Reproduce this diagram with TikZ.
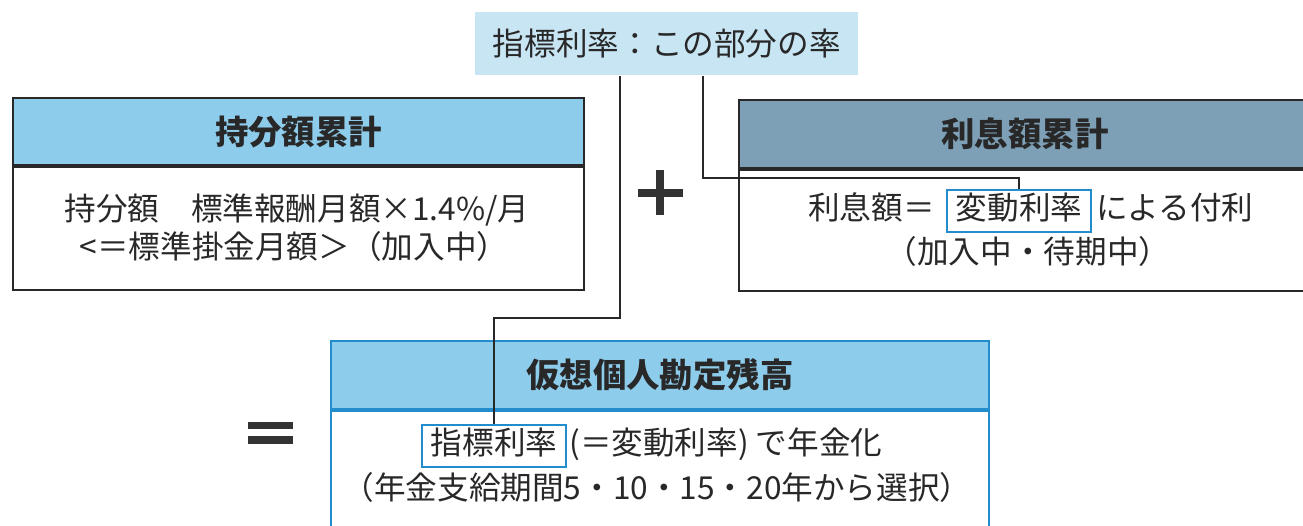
\documentclass[tikz,border=0pt]{standalone}
\usepackage{fontspec}
\setmainfont{Noto Sans CJK JP}
\usetikzlibrary{positioning}
\definecolor{labelblue}{RGB}{200,229,244}
\definecolor{headblue}{RGB}{142,204,236}
\definecolor{headgray}{RGB}{126,160,182}
\definecolor{frameblue}{RGB}{35,140,205}
\definecolor{inkgray}{RGB}{40,40,40}
\tikzset{%
	% Specifications for style of nodes:
	base/.style = {rectangle, inner sep=0pt, text=inkgray,
		font=\fontsize{18pt}{22pt}\selectfont},
	plain/.style = {base, text height=13pt, text depth=3pt},
	title/.style = {base, draw=inkgray, line width=1.2pt,
		font=\fontsize{19pt}{23pt}\selectfont\bfseries},
	bodybox/.style = {base, draw=inkgray, line width=1.2pt, fill=white},
	rate/.style = {plain, draw=frameblue, line width=1.2pt,
		inner xsep=0.18cm, inner ysep=0.14cm},
	link/.style = {draw=inkgray, line width=0.85pt},
	opline/.style = {draw=inkgray!95, line width=0.17cm},
}
\begin{document}
\begin{tikzpicture}[x=0.02cm, y=-0.02cm]
	\useasboundingbox (0,0) rectangle (1303,525);

	% top label
	\node (ratelabel) [base, fill=labelblue, minimum width=7.66cm, minimum height=1.26cm,
		anchor=north west] at (475,12) {指標利率：この部分の率};

	% left: share
	\node (sharehead) [title, fill=headblue, minimum width=11.42cm, minimum height=1.34cm,
		anchor=north west] at (12,97) {持分額累計};
	\node (sharebody) [bodybox, minimum width=11.42cm, minimum height=2.46cm,
		below=0pt of sharehead] {};
	\node (shareline1) [plain] at (297,212) {持分額　標準報酬月額×1.4\%/月};
	\node (shareline2) [plain] at (294,250) {<＝標準掛金月額＞（加入中）};

	% right: interest
	\node (interesthead) [title, fill=headgray, minimum width=11.44cm, minimum height=1.36cm,
		anchor=north west] at (738,99) {利息額累計};
	\node (interestbody) [bodybox, minimum width=11.44cm, minimum height=2.42cm,
		below=0pt of interesthead] {};
	\node (rate1) [rate] at (1019,211) {変動利率};
	\node (interestpre) [plain, base left=6pt of rate1] {利息額＝};
	\node (interestpost) [plain, base right=2pt of rate1] {による付利};
	\node (interestline2) [plain] at (1028,255) {（加入中・待期中）};

	% bottom: balance
	\node (balancehead) [title, draw=frameblue, fill=headblue, minimum width=13.16cm,
		minimum height=1.36cm, anchor=north west] at (330,340) {仮想個人勘定残高};
	\node (balancebody) [bodybox, draw=frameblue, minimum width=13.16cm, minimum height=2.74cm,
		below=0pt of balancehead] {};
	\node (rate2) [rate] at (494,446) {指標利率};
	\node (balancepost) [plain, base right=1pt of rate2] {(＝変動利率) で年金化};
	\node (balanceline2) [plain] at (657,491) {（年金支給期間5・10・15・20年から選択）};

	% plus and equals
	\draw[opline] (638,193) -- (683,193);
	\draw[opline] (660,170) -- (660,215);
	\draw[opline, line width=0.15cm] (248,425.5) -- (293,425.5);
	\draw[opline, line width=0.15cm] (248,440) -- (293,440);

	% connectors
	\coordinate (bend1) at (620,318);
	\coordinate (bend2) at (703,178);
	\draw[link] (ratelabel.south -| bend1) -- (bend1) -| (rate2.north);
	\draw[link] (ratelabel.south -| bend2) -- (bend2) -| (rate1.north);
\end{tikzpicture}
\end{document}
